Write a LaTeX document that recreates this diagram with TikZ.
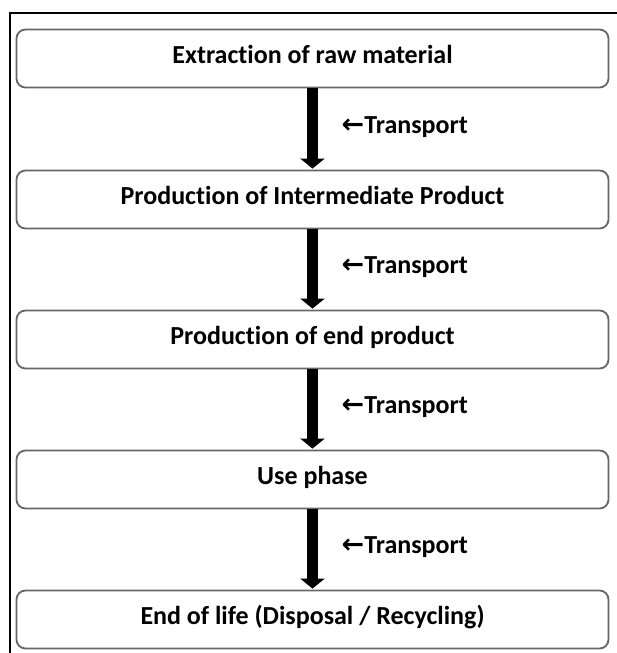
\documentclass[tikz,border=0pt]{standalone}
\usepackage{fontspec}
\setmainfont{Carlito}[Ligatures=NoCommon]
\newfontfamily\arrowfont{DejaVu Sans}
\usetikzlibrary{positioning,arrows.meta}
\tikzset{
  stage/.style={draw=black!60, line width=1.8pt, rounded corners=9pt, fill=white,
    minimum width=592pt, minimum height=58pt, inner sep=0pt, text depth=9pt,
    font=\fontsize{26}{30}\selectfont\bfseries},
  flow/.style={line width=10.5pt, -{Triangle[width=24pt,length=10pt]}, shorten >=1pt},
  note/.style={inner sep=0pt, font=\fontsize{26}{30}\selectfont\bfseries}
}
\begin{document}
\begin{tikzpicture}[x=1pt, y=-1pt]
  \useasboundingbox (0,0) rectangle (617,653);
  % ------------------------------------------------------------------ frame
  \draw[line width=1.5pt] (617,13) -- (10,13) -- (10,653);
  % ------------------------------------------------------------------ stages
  \node[stage] (s1) at (312.5,58.5) {Extraction of raw material};
  \node[stage] (s2) at (312.5,199.5) {Production of Intermediate Product};
  \node[stage] (s3) at (312.5,339.5) {Production of end product};
  \node[stage] (s4) at (312.5,479.5) {Use phase};
  \node[stage] (s5) at (312.5,619.5) {End of life (Disposal / Recycling)};
  % ------------------------------------------------------------------ transport
  \foreach \a/\b in {s1/s2, s2/s3, s3/s4, s4/s5} {
    \draw[flow] (\a.south) -- (\b.north) coordinate[midway] (m\a);
    \node[note, right=29pt of m\a, yshift=2pt] (t\a) {{\arrowfont\fontsize{27}{30}\selectfont ←}Transport};
  }
\end{tikzpicture}
\end{document}
